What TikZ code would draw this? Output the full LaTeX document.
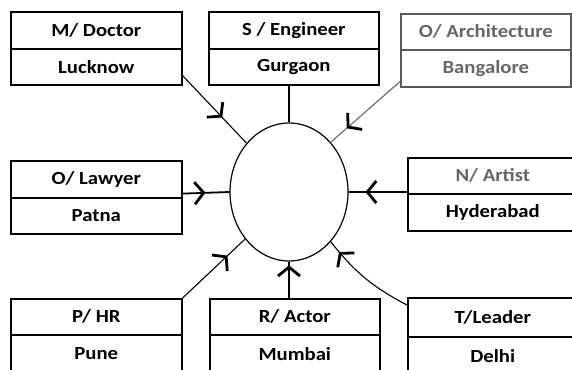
\documentclass[tikz,border=0pt]{standalone}
\usepackage{fontspec}
\setmainfont{Carlito}[FakeStretch=1.12]
\usetikzlibrary{arrows.meta,decorations.markings,calc,shapes.geometric}
\begin{document}
\begin{tikzpicture}[x=1pt,y=-1pt,
  cell/.style={draw, line width=1.6pt, minimum width=171pt, minimum height=37pt,
    inner sep=0pt, anchor=north west, font=\bfseries\fontsize{18.5}{20}\selectfont},
  cellg/.style={cell, draw=black!65, text=black!60},
  conn/.style={line width=1.1pt},
  mid/.style={postaction={decorate}, decoration={markings,
    mark=at position #1 with {\draw[draw=black, line width=2.8pt, solid, miter limit=4]
      (-9pt,-11pt) -- (0pt,0pt) -- (-9pt,11pt);}}}
]
\clip (0,0) rectangle (572,369);
\fill[white] (0,0) rectangle (572,369);
% boxes
\node[cell] (doc1) at (10,11) {M/ Doctor};
\node[cell, minimum height=36pt] (doc2) at (10,48) {Lucknow};
\node[cell, minimum width=170pt] (eng1) at (208,11) {S / Engineer};
\node[cell, minimum width=170pt, minimum height=36pt] (eng2) at (208,48) {Gurgaon};
\node[cellg, minimum width=170pt, minimum height=36pt] (arc1) at (400,13) {O/ Architecture};
\node[cellg, minimum width=170pt] (arc2) at (400,49) {Bangalore};
\node[cell] (law1) at (10,160) {O/ Lawyer};
\node[cell, minimum height=36pt] (law2) at (10,197) {Patna};
\node[cell, minimum width=170pt, minimum height=36pt, text=black!60] (art1) at (407,157) {N/ Artist};
\node[cell, minimum width=170pt] (art2) at (407,193) {Hyderabad};
\node[cell, minimum height=36pt] (hr1) at (10,298) {P/ HR};
\node[cell, minimum height=38pt] (hr2) at (10,334) {Pune};
\node[cell, minimum width=170pt, minimum height=36pt] (act1) at (209,298) {R/ Actor};
\node[cell, minimum width=170pt, minimum height=38pt] (act2) at (209,334) {Mumbai};
\node[cell, minimum width=170pt, minimum height=39pt] (lea1) at (407,297) {T/Leader};
\node[cell, minimum width=170pt, minimum height=38pt] (lea2) at (407,336) {Delhi};
% centre
\node[draw, ellipse, line width=1.2pt, minimum width=118pt, minimum height=138pt, inner sep=0pt] (c) at (289,192) {};
% connectors
\draw[conn, line width=1.8pt] (eng2.south -| c.north) -- (c.north);
\draw[conn, mid=0.6] ($(doc2.south east)+(0,-10)$) -- (c.131);
\draw[conn, draw=black!60, mid=0.75] ($(arc2.south west)+(0,-6)$) -- (c.50);
\draw[conn, line width=1.8pt, mid=0.45] ($(law1.south east)+(0,-5)$) -- (c.west);
\draw[conn, line width=1.5pt, mid=0.68] (art2.north west |- c.east) -- (c.east);
\draw[conn, mid=0.7] (hr1.north east) -- (c.227);
\draw[conn, line width=1.8pt, mid=0.85] (act1.north -| c.south) -- (c.south);
\draw[conn, mid=0.85] ($(lea1.north west)+(0,8)$) to[bend left=12] (c.310);
\end{tikzpicture}
\end{document}
